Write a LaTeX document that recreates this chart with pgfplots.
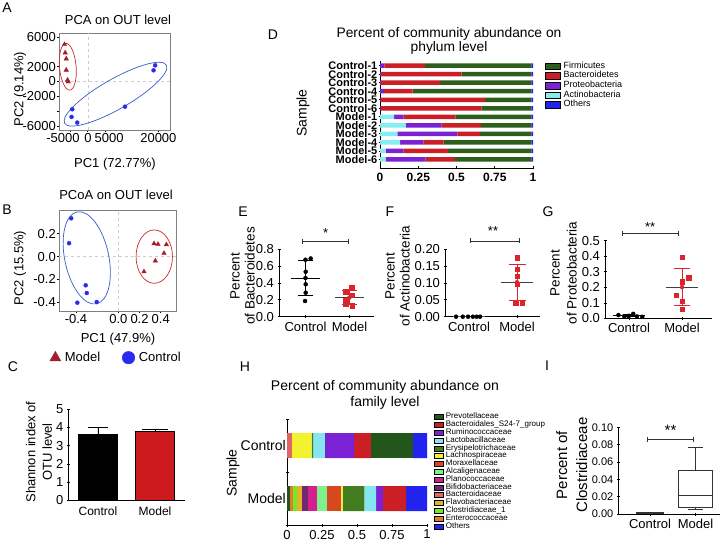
\documentclass[border=0pt]{standalone}
\usepackage{pgfplots}
\pgfplotsset{compat=1.18}
\usepackage{pgfplotstable}
\usepgfplotslibrary{statistics}
\usetikzlibrary{arrows.meta}
\usepackage{fontspec}
\setmainfont{Liberation Sans}
\newcommand\fs[1]{\fontsize{#1}{#1}\selectfont}
\newcommand\fsb[2]{\fontsize{#1}{#2}\selectfont}
\definecolor{tri}{HTML}{A0202E}
\definecolor{dotb}{HTML}{2B2BF0}
\definecolor{ellr}{HTML}{CC2A2A}
\definecolor{ellb}{HTML}{3A5CC8}
\definecolor{barred}{HTML}{CC1A1F}
\definecolor{ptred}{HTML}{D9252B}
\definecolor{firm}{HTML}{2D5E1B}
\definecolor{bact}{HTML}{CC1F25}
\definecolor{prot}{HTML}{7A22D4}
\definecolor{acti}{HTML}{85EEF2}
\definecolor{othr}{HTML}{2323F0}
\definecolor{prev}{HTML}{22561A}
\definecolor{sg}{HTML}{CC1F25}
\definecolor{rumi}{HTML}{7A22D4}
\definecolor{lact}{HTML}{85E6F0}
\definecolor{erys}{HTML}{437C1E}
\definecolor{lach}{HTML}{F4F22E}
\definecolor{mora}{HTML}{D8481F}
\definecolor{alca}{HTML}{80F08C}
\definecolor{plan}{HTML}{D61F8E}
\definecolor{bifi}{HTML}{6E2A6E}
\definecolor{bacd}{HTML}{E26464}
\definecolor{flav}{HTML}{E9B12A}
\definecolor{clos}{HTML}{6BEE25}
\definecolor{ente}{HTML}{E67A2C}

\pgfplotstableread{
y acti prot bact firm oth
12 0 0.028 0.266 0.696 0.01
11 0 0.007 0.527 0.456 0.01
10 0 0.007 0.386 0.597 0.01
9 0 0.026 0.187 0.777 0.01
8 0 0.004 0.682 0.304 0.01
7 0 0.004 0.660 0.326 0.01
6 0.092 0.061 0.340 0.497 0.01
5 0.168 0.235 0.257 0.330 0.01
4 0.113 0.392 0.150 0.335 0.01
3 0.131 0.153 0.131 0.575 0.01
2 0.037 0.115 0.294 0.544 0.01
1 0.037 0.261 0.192 0.500 0.01
}\Dtab

\pgfplotstableread{
y p0 ente clos flav bacd bifi plan alca mora lach erys lact rumi sg prev othr
0 0.019 0.024 0.029 0.038 0 0.041 0.060 0.072 0.100 0.014 0.156 0.084 0.048 0.165 0 0.151
1 0 0 0 0 0.036 0 0 0 0 0.139 0.012 0.084 0.208 0.120 0.299 0.102
}\Htab

\pgfplotsset{
  every axis/.append style={
    scale only axis, anchor=south west,
    /pgf/number format/assume math mode=true,
    /pgf/number format/1000 sep={},
    scaled ticks=false,
    tick label style={font=\fs{13}},
    axis line style={line width=0.8pt},
    tick style={black, line width=0.8pt},
    major tick length=3pt, tick align=outside,
    clip=false,
  },
  ebar/.style={only marks, mark=none, error bars/.cd, y dir=both, y explicit,
    error bar style={line width=0.8pt},
    error mark options={rotate=90, mark size=#1, line width=0.8pt}},
}
\tikzset{sig/.style={black!80, line width=0.8pt, {Bar[width=5pt]}-{Bar[width=5pt]}}}

\begin{document}
\begin{tikzpicture}[x=1pt,y=1pt]
\useasboundingbox (0,0) rectangle (722,-545);

% ---------------- A
\begin{axis}[at={(59pt,-130pt)}, width=111pt, height=97pt,
  xmin=-8200, xmax=23300, ymin=-6550, ymax=6550,
  axis line style={black!50, line width=0.6pt}, tick pos=left, major tick length=2pt,
  xtick={-5000,0,5000,20000},
  xticklabels={\makebox[0pt]{\hspace*{-14.6pt}-5000},0,\makebox[0pt]{\hspace*{7.2pt}5000},20000},
  ytick={-6000,-4000,-2000,0,2000,6000}, yticklabels={-6000,{},-2000,0,2000,6000},
  yticklabel style={inner xsep=1pt}, xticklabel style={inner ysep=1.5pt}]
\draw[black!20, dashed] (axis cs:0,-6550) -- (axis cs:0,6550);
\draw[black!20, dashed] (axis cs:-8200,0) -- (axis cs:23300,0);
\addplot[only marks, mark=triangle*, mark size=2.6pt, color=tri] coordinates {(-6640,5010) (-6440,3880) (-6150,3070) (-6150,1550) (-5780,200) (-5580,-30)};
\addplot[only marks, mark=*, mark size=2pt, color=dotb] coordinates {(19090,2180) (18630,1510) (10540,-3400) (-4440,-3750) (-4640,-4780) (-3020,-5550)};
\draw[ellr, line width=0.7pt] (axis cs:-5700,1995) circle[x radius=8.3pt, y radius=23.5pt, rotate=5];
\draw[ellb, line width=0.7pt] (axis cs:7835,-1710) circle[x radius=58.6pt, y radius=15pt, rotate=29.8];
\end{axis}

% ---------------- B
\begin{axis}[at={(59pt,-311pt)}, width=117pt, height=101pt,
  xmin=-0.56, xmax=0.544, ymin=-0.478, ymax=0.41,
  axis line style={black!50, line width=0.6pt}, tick pos=left, major tick length=2pt,
  xtick={-0.4,0,0.2,0.4}, ytick={-0.4,-0.2,0,0.2},
  xticklabels={-0.4,0.0,0.2,0.4}, yticklabels={-0.4,-0.2,0.0,0.2},
  yticklabel style={inner xsep=1pt}, xticklabel style={inner ysep=1.5pt},
  legend columns=2,
  legend style={at={(0.49,-0.462)}, anchor=center, draw=none, fill=none, font=\fs{13},
    /tikz/every even column/.append style={column sep=20pt},
    /tikz/every odd column/.append style={column sep=2pt}},
  legend image code/.code={\draw[#1, mark size=6.3pt] plot coordinates {(6pt,0pt)};}]
\draw[black!20, dashed] (axis cs:0,-0.478) -- (axis cs:0,0.41);
\draw[black!20, dashed] (axis cs:-0.56,0) -- (axis cs:0.544,0);
\addplot[only marks, mark=triangle*, mark size=2.6pt, color=tri] coordinates {(0.337,0.115) (0.374,0.109) (0.453,0.106) (0.431,0.030) (0.349,-0.037) (0.242,-0.132)};
\addlegendentry{Model}
\addplot[only marks, mark=*, mark size=2pt, color=dotb] coordinates {(-0.445,0.337) (-0.465,0.118) (-0.308,-0.252) (-0.298,-0.320) (-0.387,-0.405) (-0.204,-0.399)};
\addlegendentry{Control}
\draw[ellb, line width=0.7pt] (axis cs:-0.298,-0.011) circle[x radius=22pt, y radius=47pt, rotate=12];
\draw[ellr, line width=0.7pt] (axis cs:0.339,0.0) circle[x radius=18.2pt, y radius=26.7pt];
\end{axis}

% ---------------- C
\begin{axis}[at={(68.3pt,-500.3pt)}, width=116.4pt, height=91pt,
  xmin=0.48, xmax=2.52, ymin=0, ymax=5,
  axis lines=left, axis line style={-},
  ybar, bar width=39pt, xtick={1,2}, xticklabels={Control,Model},
  ytick={0,1,2,3,4,5}, xtick style={draw=none}, xticklabel style={font=\fs{12}}]
\addplot[fill=black, draw=black, bar shift=0pt, error bars/.cd, y dir=plus, y explicit,
  error bar style={black, line width=0.8pt}, error mark options={rotate=90, mark size=10pt, line width=0.8pt}]
  coordinates {(1,3.63) +- (0,0.38)};
\addplot[fill=barred, draw=black, bar shift=0pt, error bars/.cd, y dir=plus, y explicit,
  error bar style={black, line width=0.8pt}, error mark options={rotate=90, mark size=13pt, line width=0.8pt}]
  coordinates {(2,3.81) +- (0,0.11)};
\end{axis}

% ---------------- D
\begin{axis}[at={(380pt,-168pt)}, width=153pt, height=106.6pt,
  xbar stacked, bar width=4.5pt, xmin=0, xmax=1, ymin=0, ymax=12.5,
  axis lines=left, axis line style={-},
  ytick={1,...,12},
  yticklabels={Model-6,Model-5,Model-4,Model-3,Model-2,Model-1,Control-6,Control-5,Control-4,Control-3,Control-2,Control-1},
  xtick={0,0.25,0.5,0.75,1}, xticklabels={0,0.25,0.5,0.75,1},
  tick label style={font=\fs{12}\bfseries}, yticklabel style={font=\fs{11}\bfseries, inner xsep=1pt, inner ysep=0pt},
  legend style={at={(1.078,1.004)}, anchor=north west, draw=none, fill=none, font=\fs{9},
    inner sep=0pt, row sep=0pt, nodes={inner sep=0pt, text height=7pt, text depth=2.7pt},
    /tikz/every odd column/.append style={column sep=3pt}},
  legend cell align=left,
  legend image code/.code={\fill[#1] (0pt,-3.3pt) rectangle (15pt,3.3pt);}]
\addlegendimage{fill=firm}\addlegendentry{Firmicutes}
\addlegendimage{fill=bact}\addlegendentry{Bacteroidetes}
\addlegendimage{fill=prot}\addlegendentry{Proteobacteria}
\addlegendimage{fill=acti}\addlegendentry{Actinobacteria}
\addlegendimage{fill=othr}\addlegendentry{Others}
\addplot[fill=acti, draw=none] table[x=acti, y=y] {\Dtab};
\addplot[fill=prot, draw=none] table[x=prot, y=y] {\Dtab};
\addplot[fill=bact, draw=none] table[x=bact, y=y] {\Dtab};
\addplot[fill=firm, draw=none] table[x=firm, y=y] {\Dtab};
\addplot[fill=othr, draw=none] table[x=oth, y=y] {\Dtab};
\end{axis}

% ---------------- E
\begin{axis}[at={(279pt,-316.7pt)}, width=95pt, height=67.5pt,
  xmin=0.398, xmax=2.557, ymin=0, ymax=0.8,
  axis lines=left, axis line style={-},
  xtick={1,2}, xticklabels={Control,Model},
  ytick={0,0.2,0.4,0.6,0.8},
  yticklabel style={/pgf/number format/.cd, fixed, fixed zerofill, precision=1}]
\addplot[black, line width=0.8pt] coordinates {(0.66,0.459) (1.34,0.459)};
\addplot[black!75, line width=0.8pt] coordinates {(1.67,0.228) (2.33,0.228)};
\addplot[black, ebar=7.2pt] coordinates {(1,0.459) +- (0,0.21)};
\addplot[ptred, ebar=7.5pt] coordinates {(2,0.228) +- (0,0.085)};
\addplot[only marks, mark=*, mark size=2pt, black] coordinates {(1,0.675) (1.118,0.69) (1.005,0.533) (1.005,0.384) (1.005,0.284) (0.99,0.186)};
\addplot[only marks, mark=square*, mark size=2.2pt, ptred] coordinates {(2.05,0.348) (1.91,0.296) (2.06,0.257) (1.91,0.19) (1.91,0.147) (2.06,0.13)};
\draw[sig] (axis cs:0.93,0.889) -- (axis cs:1.99,0.889);
\node[font=\fs{13}] at (axis cs:1.46,0.99) {*};
\end{axis}

% ---------------- F
\begin{axis}[at={(445pt,-316.7pt)}, width=95pt, height=67.6pt,
  xmin=0.5, xmax=2.479, ymin=0, ymax=0.2,
  axis lines=left, axis line style={-},
  xtick={1,2}, xticklabels={Control,Model},
  ytick={0,0.05,0.1,0.15,0.2},
  yticklabel style={/pgf/number format/.cd, fixed, fixed zerofill, precision=2}]
\addplot[black!60, line width=0.8pt] coordinates {(0.67,0) (1.33,0)};
\addplot[black!75, line width=0.8pt] coordinates {(1.67,0.102) (2.33,0.102)};
\addplot[ptred, ebar=8.5pt] coordinates {(2,0.102) +- (0,0.054)};
\addplot[only marks, mark=*, mark size=2pt, black] coordinates {(0.73,0) (0.87,0) (0.98,0) (1.08,0) (1.16,0) (1.23,0)};
\addplot[only marks, mark=square*, mark size=2.2pt, ptred] coordinates {(2,0.175) (2,0.141) (2,0.120) (2,0.096) (1.97,0.041) (2.11,0.041)};
\draw[sig] (axis cs:1.02,0.224) -- (axis cs:2.06,0.224);
\node[font=\fs{13}] at (axis cs:1.5,0.252) {**};
\end{axis}

% ---------------- G
\begin{axis}[at={(605pt,-318.5pt)}, width=107pt, height=77.8pt,
  xmin=0.547, xmax=2.566, ymin=0, ymax=0.5,
  axis lines=left, axis line style={-},
  xtick={1,2}, xticklabels={Control,Model},
  ytick={0,0.1,0.2,0.3,0.4,0.5},
  yticklabel style={/pgf/number format/.cd, fixed, fixed zerofill, precision=1}]
\addplot[black, line width=0.8pt] coordinates {(0.69,0.0175) (1.31,0.0175)};
\addplot[black!75, line width=0.8pt] coordinates {(1.69,0.202) (2.31,0.202)};
\addplot[black, ebar=6pt] coordinates {(1,0.0175) +- (0,0.007)};
\addplot[ptred, ebar=8.3pt] coordinates {(2,0.202) +- (0,0.121)};
\addplot[only marks, mark=*, mark size=2pt, black] coordinates {(0.80,0.022) (0.91,0.015) (0.99,0.014) (1.08,0.030) (1.15,0.013) (1.25,0.011)};
\addplot[only marks, mark=square*, mark size=2.2pt, ptred] coordinates {(2.006,0.393) (2.126,0.262) (2.006,0.237) (1.887,0.151) (2.006,0.112) (2.006,0.059)};
\draw[sig] (axis cs:0.86,0.548) -- (axis cs:1.93,0.548);
\node[font=\fs{13}] at (axis cs:1.4,0.59) {**};
\end{axis}

% ---------------- H
\begin{axis}[at={(287pt,-525pt)}, width=140pt, height=106pt,
  xbar stacked, bar width=25pt, xmin=0, xmax=1, ymin=-0.5, ymax=1.5,
  axis lines=left, axis line style={-},
  ytick={-0.5,0.5,1.5}, yticklabels={},
  extra y ticks={0,1}, extra y tick labels={Model,Control},
  extra y tick style={major tick length=0pt, tick label style={font=\fs{14}, inner xsep=1pt}},
  xtick={0,0.25,0.5,0.75,1}, xticklabels={0,0.25,0.5,0.75,1},
  legend style={at={(1.05,1.057)}, anchor=north west, draw=none, fill=none, font=\fs{8},
    inner sep=0pt, row sep=0pt, nodes={inner sep=0pt, text height=5.7pt, text depth=2.1pt},
    /tikz/every odd column/.append style={column sep=3pt}},
  legend cell align=left,
  legend image code/.code={\fill[#1] (0pt,-2.5pt) rectangle (8.3pt,2.5pt);}]
\addlegendimage{fill=prev}\addlegendentry{Prevotellaceae}
\addlegendimage{fill=sg}\addlegendentry{Bacteroidales\_S24-7\_group}
\addlegendimage{fill=rumi}\addlegendentry{Ruminococcaceae}
\addlegendimage{fill=lact}\addlegendentry{Lactobacillaceae}
\addlegendimage{fill=erys}\addlegendentry{Erysipelotrichaceae}
\addlegendimage{fill=lach}\addlegendentry{Lachnospiraceae}
\addlegendimage{fill=mora}\addlegendentry{Moraxellaceae}
\addlegendimage{fill=alca}\addlegendentry{Alcaligenaceae}
\addlegendimage{fill=plan}\addlegendentry{Planococcaceae}
\addlegendimage{fill=bifi}\addlegendentry{Bifidobacteriaceae}
\addlegendimage{fill=bacd}\addlegendentry{Bacteroidaceae}
\addlegendimage{fill=flav}\addlegendentry{Flavobacteriaceae}
\addlegendimage{fill=clos}\addlegendentry{Clostridiaceae\_1}
\addlegendimage{fill=ente}\addlegendentry{Enterococcaceae}
\addlegendimage{fill=othr}\addlegendentry{Others}
\addplot[fill=prev, draw=none] table[x=p0, y=y] {\Htab};
\addplot[fill=ente, draw=none] table[x=ente, y=y] {\Htab};
\addplot[fill=clos, draw=none] table[x=clos, y=y] {\Htab};
\addplot[fill=flav, draw=none] table[x=flav, y=y] {\Htab};
\addplot[fill=bacd, draw=none] table[x=bacd, y=y] {\Htab};
\addplot[fill=bifi, draw=none] table[x=bifi, y=y] {\Htab};
\addplot[fill=plan, draw=none] table[x=plan, y=y] {\Htab};
\addplot[fill=alca, draw=none] table[x=alca, y=y] {\Htab};
\addplot[fill=mora, draw=none] table[x=mora, y=y] {\Htab};
\addplot[fill=lach, draw=none] table[x=lach, y=y] {\Htab};
\addplot[fill=erys, draw=none] table[x=erys, y=y] {\Htab};
\addplot[fill=lact, draw=none] table[x=lact, y=y] {\Htab};
\addplot[fill=rumi, draw=none] table[x=rumi, y=y] {\Htab};
\addplot[fill=sg, draw=none] table[x=sg, y=y] {\Htab};
\addplot[fill=prev, draw=none] table[x=prev, y=y] {\Htab};
\addplot[fill=othr, draw=none] table[x=othr, y=y] {\Htab};
\end{axis}

% ---------------- I
\begin{axis}[at={(618.3pt,-514pt)}, width=101.7pt, height=86.7pt,
  xmin=0.303, xmax=2.538, ymin=0, ymax=0.1,
  axis lines=left, axis line style={-}, boxplot/draw direction=y,
  xtick={1,2}, xticklabels={Control,Model},
  ytick={0,0.02,0.04,0.06,0.08,0.1},
  yticklabel style={font=\fs{11}, /pgf/number format/.cd, fixed, fixed zerofill, precision=2}]
\addplot[black!80, line width=0.8pt, boxplot prepared={draw position=1, median=0.001, lower quartile=0.0006, upper quartile=0.0014, lower whisker=0.0004, upper whisker=0.0016, box extend=0.6, whisker extend=0.3}] coordinates {};
\addplot[black!80, line width=0.8pt, boxplot prepared={draw position=2, median=0.0211, lower quartile=0.0077, upper quartile=0.0507, lower whisker=0.0054, upper whisker=0.0769, box extend=0.75, whisker extend=0.345}] coordinates {};
\draw[sig] (axis cs:0.93,0.086) -- (axis cs:1.97,0.086);
\node[font=\fs{15}] at (axis cs:1.45,0.0965) {**};
\end{axis}

% ---------------- texts
\node[font=\fs{14}] at (7,-8) {A};
\node[font=\fs{13}] at (118,-20) {PCA on OUT level};
\node[font=\fs{13}, rotate=90] at (20,-89) {PC2 (9.14\%)};
\node[font=\fs{13}] at (115,-164) {PC1 (72.77\%)};
\node[font=\fs{14}] at (7,-210) {B};
\node[font=\fs{13}] at (116,-195) {PCoA on OUT level};
\node[font=\fs{13}, rotate=90] at (20,-268) {PC2 (15.5\%)};
\node[font=\fs{13}] at (118,-339) {PC1 (47.9\%)};
\node[font=\fs{14}] at (13,-367) {C};
\node[font=\fsb{13}{16.7}, rotate=90, align=center] at (39,-452) {Shannon index of\\OTU level};
\node[font=\fs{14}] at (273,-35) {D};
\node[font=\fsb{13.8}{14}, align=center] at (449,-41) {Percent of community abundance on\\phylum level};
\node[font=\fs{14}, rotate=90] at (303,-113) {Sample};
\node[font=\fs{14}] at (243,-212) {E};
\node[font=\fsb{13.5}{15}, rotate=90, align=center] at (242.5,-276) {Percent\\of Bacteroidetes};
\node[font=\fs{14}] at (390,-212) {F};
\node[font=\fsb{13.5}{15}, rotate=90, align=center] at (397.5,-276) {Percent\\of Actinobacteria};
\node[font=\fs{14}] at (548,-212) {G};
\node[font=\fsb{13.5}{17}, rotate=90, align=center] at (563.5,-273) {Percent\\of Proteobacteria};
\node[font=\fs{14}] at (245,-367) {H};
\node[font=\fsb{14}{16.6}, align=center] at (385,-395) {Percent of community abundance on\\family level};
\node[font=\fs{14}, rotate=90] at (233,-473) {Sample};
\node[font=\fs{14}] at (547,-366) {I};
\node[font=\fsb{15}{20}, rotate=90, align=center] at (571.7,-465) {Percent of\\Clostridiaceae};
\end{tikzpicture}
\end{document}
